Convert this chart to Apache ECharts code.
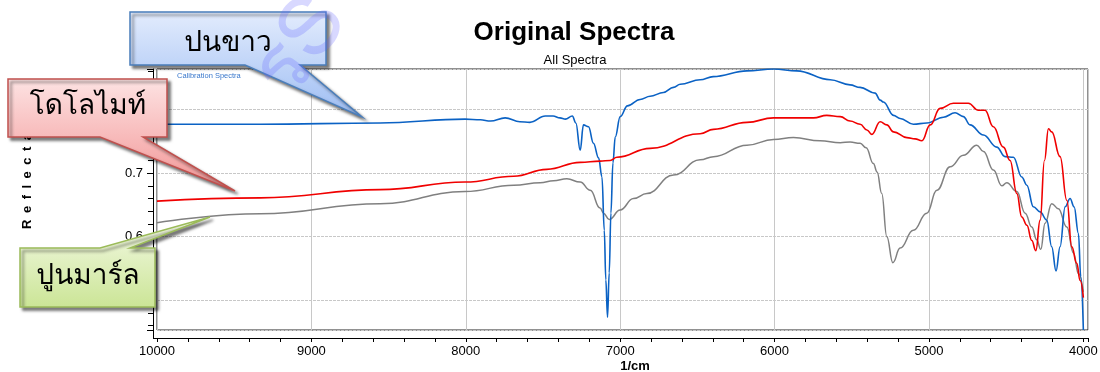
<!DOCTYPE html>
<html><head><meta charset="utf-8">
<script src="https://cdn.jsdelivr.net/npm/echarts@6/dist/echarts.min.js"></script>
<style>html,body{margin:0;padding:0;background:#fff}#c{width:1100px;height:372px}</style>
</head><body><div id="c"></div>
<script>
// ---- data (wavenumber 1/cm, reflectance) ----
const wnBlue = [10000, 9330, 8555, 8005, 7905, 7840, 7745, 7650, 7585, 7485, 7435, 7390, 7355, 7310, 7287, 7259, 7238, 7205, 7173, 7140, 7118, 7103, 7093, 7082, 7071, 7060, 7047, 7032, 7000, 6953, 6871, 6806, 6720, 6655, 6611, 6482, 6398, 6179, 6007, 5856, 5640, 5511, 5446, 5349, 5316, 5295, 5230, 5187, 5101, 5014, 4906, 4831, 4777, 4734, 4647, 4561, 4507, 4453, 4399, 4366, 4324, 4280, 4237, 4205, 4177, 4151, 4118, 4086, 4060, 4032, 4017, 4000];
const rBlue = [0.777, 0.777, 0.779, 0.785, 0.784, 0.782, 0.787, 0.781, 0.780, 0.790, 0.790, 0.787, 0.785, 0.790, 0.779, 0.736, 0.776, 0.773, 0.747, 0.724, 0.694, 0.610, 0.532, 0.473, 0.543, 0.637, 0.716, 0.757, 0.789, 0.806, 0.816, 0.821, 0.827, 0.835, 0.840, 0.847, 0.852, 0.861, 0.864, 0.861, 0.847, 0.839, 0.835, 0.826, 0.815, 0.812, 0.791, 0.786, 0.777, 0.779, 0.788, 0.795, 0.789, 0.776, 0.760, 0.741, 0.726, 0.725, 0.694, 0.681, 0.647, 0.639, 0.626, 0.584, 0.546, 0.584, 0.647, 0.660, 0.647, 0.605, 0.537, 0.453];

const wnRed = [10000, 9330, 8555, 8005, 7690, 7475, 7259, 7130, 7065, 7021, 6806, 6482, 6396, 6179, 6007, 5748, 5662, 5575, 5511, 5446, 5402, 5370, 5316, 5273, 5230, 5143, 5090, 5046, 4992, 4928, 4842, 4745, 4680, 4637, 4583, 4518, 4475, 4431, 4399, 4366, 4334, 4308, 4280, 4252, 4226, 4205, 4151, 4107, 4075, 4043, 4021, 4000];
const rRed = [0.656, 0.661, 0.674, 0.686, 0.695, 0.706, 0.717, 0.719, 0.720, 0.725, 0.739, 0.762, 0.769, 0.780, 0.787, 0.787, 0.791, 0.789, 0.782, 0.777, 0.768, 0.761, 0.781, 0.776, 0.765, 0.756, 0.754, 0.751, 0.776, 0.802, 0.810, 0.810, 0.799, 0.799, 0.773, 0.741, 0.720, 0.668, 0.631, 0.618, 0.594, 0.578, 0.626, 0.720, 0.770, 0.765, 0.726, 0.657, 0.584, 0.558, 0.531, 0.504];

const wnGray = [10000, 9330, 8555, 8005, 7690, 7518, 7432, 7345, 7259, 7194, 7130, 7108, 7071, 7000, 6914, 6827, 6655, 6482, 6396, 6179, 6007, 5878, 5705, 5575, 5511, 5446, 5407, 5360, 5336, 5306, 5273, 5234, 5187, 5101, 5014, 4949, 4863, 4777, 4690, 4647, 4583, 4528, 4496, 4431, 4377, 4334, 4302, 4276, 4248, 4205, 4162, 4107, 4064, 4032, 4000];
const rGray = [0.622, 0.636, 0.652, 0.671, 0.681, 0.685, 0.688, 0.691, 0.686, 0.673, 0.645, 0.637, 0.627, 0.642, 0.660, 0.668, 0.697, 0.721, 0.726, 0.744, 0.753, 0.756, 0.751, 0.748, 0.749, 0.747, 0.740, 0.715, 0.702, 0.668, 0.600, 0.559, 0.582, 0.610, 0.637, 0.673, 0.710, 0.728, 0.744, 0.734, 0.705, 0.680, 0.685, 0.671, 0.637, 0.615, 0.595, 0.580, 0.621, 0.652, 0.644, 0.615, 0.574, 0.542, 0.513];

const seriesNames = ['ปนขาว', 'โดโลไมท์', 'ปูนมาร์ล'];
const titleText = 'Original Spectra';
const subTitleText = 'All Spectra';
const noteText = 'Calibration Spectra';
const xAxisName = '1/cm';
const yAxisName = 'R\u2002e\u2002f\u2002l\u2002e\u2002c\u2002t\u2002a\u2002n\u2002c\u2002e';
const watermarkText = 'รS';

const pairs = (xs, ys) => xs.map((x, i) => [x, ys[i]]);

const LATIN = '"Liberation Sans", Arial, sans-serif';
const THAI = '"Noto Looped Thai", Tahoma, "Loma", "Garuda", "Noto Sans Thai", "Noto Sans", sans-serif';

function grad(c1, c2) {
  return { type: 'linear', x: 0, y: 0, x2: 0, y2: 1, colorStops: [{ offset: 0, color: c1 }, { offset: 1, color: c2 }] };
}
function callout(points, c1, c2, stroke) {
  return {
    type: 'polygon', z: 100,
    shape: { points },
    style: { fill: grad(c1, c2), stroke, lineWidth: 1.5,
      shadowBlur: 3, shadowOffsetX: 3, shadowOffsetY: 3, shadowColor: 'rgba(0,0,0,0.5)' }
  };
}
function label(text, x, y, font, fill, extra) {
  return Object.assign({ type: 'text', z: 101, x, y,
    style: { text, font, fill, textAlign: 'center', textVerticalAlign: 'middle' } }, extra || {});
}

const chart = echarts.init(document.getElementById('c'), null, { renderer: 'canvas' });
chart.setOption({
  animation: false,
  backgroundColor: '#fff',
  grid: { left: 157, right: 12, top: 69, bottom: 42, containLabel: false, outerBoundsMode: 'none',
    show: true, borderColor: '#222', borderWidth: 1, backgroundColor: 'transparent' },
  xAxis: {
    type: 'value', inverse: true, min: 3970, max: 10000, offset: 8,
    axisLine: { show: true, lineStyle: { color: '#000', width: 1 } },
    axisTick: { show: true, length: 4, lineStyle: { color: '#000' } },
    minorTick: { show: true, splitNumber: 5, length: 4, lineStyle: { color: '#000' } },
    axisLabel: { showMinLabel: false, color: '#000', fontSize: 13, fontFamily: LATIN, margin: 7, formatter: v => String(v) },
    splitLine: { show: true, lineStyle: { color: '#c8c8c8', width: 1 } }
  },
  yAxis: {
    type: 'value', min: 0.453, max: 0.864, offset: 4,
    axisLine: { show: true, lineStyle: { color: '#000', width: 1 } },
    axisTick: { show: true, length: 6, lineStyle: { color: '#000' } },
    minorTick: { show: true, splitNumber: 5, length: 5, lineStyle: { color: '#000' } },
    axisLabel: { showMinLabel: false, showMaxLabel: false, color: '#000', fontSize: 13, fontFamily: LATIN, margin: 10, formatter: v => String(Math.round(v * 10) / 10) },
    splitLine: { show: true, lineStyle: { color: '#c8c8c8', width: 1, type: [3, 1] } }
  },
  series: [
    { name: seriesNames[2], type: 'line', data: pairs(wnGray, rGray), showSymbol: false, smooth: 0.45, smoothMonotone: 'x', clip: true,
      lineStyle: { color: '#808080', width: 1.5 }, z: 2 },
    { name: seriesNames[0], type: 'line', data: pairs(wnBlue, rBlue), showSymbol: false, smooth: 0.4, smoothMonotone: 'x', clip: true,
      lineStyle: { color: '#0b62c4', width: 1.6 }, z: 3 },
    { name: seriesNames[1], type: 'line', data: pairs(wnRed, rRed), showSymbol: false, smooth: 0.45, smoothMonotone: 'x', clip: true,
      lineStyle: { color: '#f00000', width: 1.6 }, z: 4 }
  ],
  graphic: [
    label(titleText, 574, 33, 'bold 26px ' + LATIN, '#000', { z: 50 }),
    label(subTitleText, 575, 60, '13px ' + LATIN, '#000', { z: 50 }),
    { type: 'text', z: 50, x: 177, y: 76, style: { text: noteText, font: '7.5px ' + LATIN, fill: '#3a78cc', textVerticalAlign: 'middle' } },
    label(xAxisName, 635, 366, 'bold 13px ' + LATIN, '#000', { z: 50 }),
    label(yAxisName, 27, 160, 'bold 13px ' + LATIN, '#000', { z: 50, rotation: Math.PI / 2 }),
    // joins of the offset axes (decoration)
    { type: 'line', z: 60, shape: { x1: 153.5, y1: 330, x2: 153.5, y2: 338.5 }, style: { stroke: '#000', lineWidth: 1 } },
    { type: 'line', z: 60, shape: { x1: 153, y1: 338.5, x2: 157, y2: 338.5 }, style: { stroke: '#000', lineWidth: 1 } },
    // callouts
    callout([[130, 12], [326, 12], [326, 65], [300, 65], [362, 117], [245, 65], [130, 65]], '#e3ecfd', '#9dbdf3', '#4a7ebb'),
    label(seriesNames[0], 228, 45, '28px ' + THAI, '#000'),
    callout([[8, 79], [167, 79], [167, 137], [143, 137], [235, 191], [100, 137], [8, 137]], '#fde3e3', '#f29494', '#c0504d'),
    label(seriesNames[1], 88, 108, '28px ' + THAI, '#000'),
    callout([[20, 248], [100, 248], [210, 217], [130, 248], [155, 248], [155, 307], [20, 307]], '#f5fae8', '#cbe596', '#9bbb59'),
    label(seriesNames[2], 88, 278, '28px ' + THAI, '#000'),
    // faint watermark
    label(watermarkText, 305, 50, '84px ' + THAI, 'rgba(100,100,255,0.25)', { z: 120, rotation: 0.95 })
  ]
});
</script></body></html>
